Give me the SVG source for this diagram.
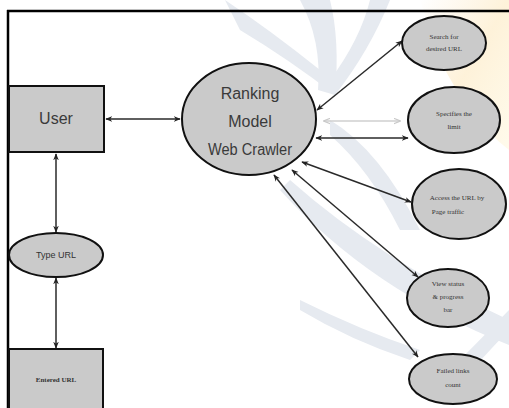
<svg xmlns="http://www.w3.org/2000/svg" width="509" height="408" viewBox="0 0 509 408">
<defs>
<marker id="ah" viewBox="0 0 10 10" refX="9" refY="5" markerWidth="7" markerHeight="7" orient="auto-start-reverse" markerUnits="userSpaceOnUse">
<path d="M0,1 L10,5 L0,9 L3,5 Z" fill="#222"/>
</marker>
<marker id="ahf" viewBox="0 0 10 10" refX="9" refY="5" markerWidth="7" markerHeight="7" orient="auto-start-reverse" markerUnits="userSpaceOnUse">
<path d="M0,1 L10,5 L0,9" fill="none" stroke="#c8c8c8" stroke-width="1.5"/>
</marker>
<linearGradient id="og" x1="0" y1="0" x2="1" y2="1">
<stop offset="0" stop-color="#fde7c4" stop-opacity="0"/>
<stop offset="0.5" stop-color="#fde9c0" stop-opacity="0.6"/>
<stop offset="1" stop-color="#fff6d8" stop-opacity="0.5"/>
</linearGradient>
</defs>
<style>
.node{fill:#cacaca;stroke:#111;stroke-width:2}
.big{font-family:"Liberation Sans","DejaVu Sans",sans-serif;font-size:16px;fill:#3a3a3a;text-anchor:middle}
.sm{font-family:"Liberation Serif","DejaVu Serif",serif;font-size:7px;fill:#333;text-anchor:middle}
.mid{font-family:"Liberation Sans","DejaVu Sans",sans-serif;font-size:9px;fill:#333;text-anchor:middle}
.conn{stroke:#2a2a2a;stroke-width:1.5;fill:none;marker-start:url(#ah);marker-end:url(#ah)}
.wm{fill:#e6eaf0}
</style>
<rect width="509" height="408" fill="#ffffff"/>
<g id="watermark">
<path d="M420,0 L509,0 L509,150 Q470,120 440,60 Z" fill="url(#og)"/>
<path class="wm" d="M225,0 Q270,30 320,70 L335,95 Q290,60 240,30 Z"/>
<path class="wm" d="M300,0 L330,0 Q340,40 335,95 L318,90 Q322,40 300,0 Z"/>
<path class="wm" d="M390,0 Q370,50 335,95 L330,80 Q360,40 370,0 Z"/>
<path class="wm" d="M290,180 Q380,260 509,320 L509,345 Q370,290 280,190 Z"/>
<path class="wm" d="M330,120 Q380,150 420,230 L400,230 Q370,170 330,135 Z"/>
<path class="wm" d="M300,300 Q360,330 420,350 L410,360 Q350,340 300,310 Z"/>
<path class="wm" d="M440,380 Q480,340 509,310 L509,330 Q480,360 450,395 Z"/>
</g>
<g id="frame">
<line x1="7" y1="11" x2="509" y2="11" stroke="#000" stroke-width="2.5"/>
<line x1="8" y1="10" x2="8" y2="408" stroke="#000" stroke-width="2.5"/>
</g>
<g id="connectors">
<line class="conn" x1="106" y1="119" x2="180" y2="119"/>
<line class="conn" x1="56" y1="154" x2="56" y2="232"/>
<line class="conn" x1="56" y1="278" x2="56" y2="348"/>
<line class="conn" x1="317" y1="110" x2="402" y2="41"/>
<line x1="324" y1="121" x2="400" y2="121" stroke="#cfcfcf" stroke-width="1.5" marker-start="url(#ahf)" marker-end="url(#ahf)"/>
<line class="conn" x1="316" y1="138" x2="408" y2="138"/>
<line class="conn" x1="302" y1="162" x2="411" y2="202"/>
<line class="conn" x1="292" y1="170" x2="418" y2="277"/>
<line class="conn" x1="274" y1="175" x2="418" y2="357"/>
</g>
<g id="user">
<rect class="node" x="9" y="86" width="95" height="66"/>
<text class="big" x="56" y="124">User</text>
</g>
<g id="ranking">
<ellipse class="node" cx="249" cy="119" rx="67" ry="56"/>
<text class="big" x="250" y="99">Ranking</text>
<text class="big" x="250" y="127">Model</text>
<text class="big" x="250" y="155" textLength="84" lengthAdjust="spacingAndGlyphs">Web Crawler</text>
</g>
<g id="typeurl">
<ellipse class="node" cx="56" cy="255" rx="47" ry="22"/>
<text class="mid" x="56" y="258">Type URL</text>
</g>
<g id="entered">
<rect class="node" x="9" y="349" width="94" height="62"/>
<text class="sm" x="56" y="382" font-weight="bold">Entered URL</text>
</g>
<g id="search">
<ellipse class="node" cx="444" cy="43" rx="42" ry="27"/>
<text class="sm" x="444" y="39">Search for</text>
<text class="sm" x="444" y="51">desired URL</text>
</g>
<g id="specifies">
<ellipse class="node" cx="454" cy="120" rx="46" ry="33"/>
<text class="sm" x="454" y="116">Specifies the</text>
<text class="sm" x="454" y="129">limit</text>
</g>
<g id="access">
<ellipse class="node" cx="459" cy="204" rx="47" ry="35"/>
<text class="sm" x="457" y="200">Access the URL by</text>
<text class="sm" x="448" y="214">Page traffic</text>
</g>
<g id="view">
<ellipse class="node" cx="448" cy="298" rx="41" ry="29"/>
<text class="sm" x="448" y="286">View status</text>
<text class="sm" x="448" y="299">&amp; progress</text>
<text class="sm" x="448" y="312">bar</text>
</g>
<g id="failed">
<ellipse class="node" cx="453" cy="379" rx="44" ry="25"/>
<text class="sm" x="453" y="373">Failed links</text>
<text class="sm" x="453" y="387">count</text>
</g>
</svg>
